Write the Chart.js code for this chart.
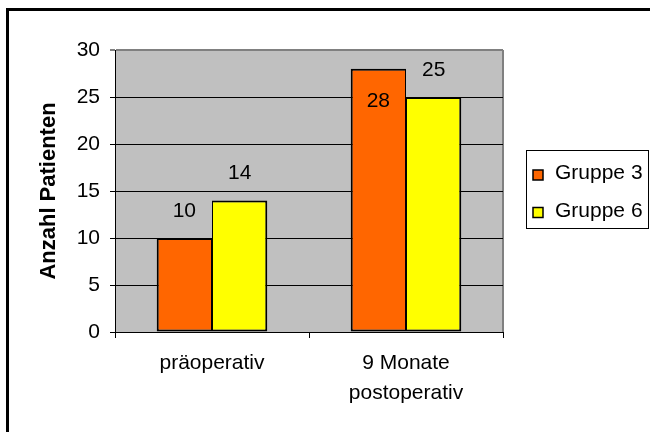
<!DOCTYPE html>
<html>
<head>
<meta charset="utf-8">
<script src="https://cdn.jsdelivr.net/npm/chart.js@4/dist/chart.umd.min.js"></script>
<style>
  html, body { margin: 0; padding: 0; background: #fff; }
  canvas { display: block; }
</style>
</head>
<body>
<canvas id="chart" width="650" height="432"></canvas>
<script>
// Categories, series and axis ticks
const categories = ['präoperativ', ['9 Monate', 'postoperativ']];
const seriesNames = ['Gruppe 3', 'Gruppe 6'];
const gruppe3 = [10, 28];
const gruppe6 = [14, 25];
const yTicks = [0, 5, 10, 15, 20, 25, 30];
const yTitle = 'Anzahl Patienten';

const FONT = '"Liberation Sans", Arial, Helvetica, sans-serif';
const FONT_SIZE = 21;
const PLOT_BG = '#C0C0C0';
const FRAME_GRAY = '#808080';

Chart.defaults.font.family = FONT;
Chart.defaults.font.size = FONT_SIZE;
Chart.defaults.color = '#000';

// White page with the heavy outer frame, grey plot area and its grey right edge
const framePlugin = {
  id: 'frame',
  beforeDraw(chart) {
    const { ctx, chartArea: a } = chart;
    ctx.save();
    ctx.fillStyle = '#fff';
    ctx.fillRect(0, 0, chart.width, chart.height);
    ctx.strokeStyle = '#000';
    ctx.lineWidth = 3;
    ctx.strokeRect(7.5, 9.5, chart.width + 50, chart.height + 50);
    ctx.fillStyle = PLOT_BG;
    ctx.fillRect(a.left, a.top, a.right - a.left, a.bottom - a.top);
    ctx.strokeStyle = FRAME_GRAY;
    ctx.lineWidth = 2;
    ctx.beginPath();
    ctx.moveTo(a.right, a.top);
    ctx.lineTo(a.right, a.bottom);
    ctx.stroke();
    ctx.restore();
  }
};

// Value labels: above each bar, or inside its top when there is no room above
const valueLabelPlugin = {
  id: 'valueLabels',
  afterDatasetsDraw(chart) {
    const { ctx, chartArea: a } = chart;
    ctx.save();
    ctx.font = `${FONT_SIZE}px ${FONT}`;
    ctx.fillStyle = '#000';
    ctx.textAlign = 'center';
    ctx.textBaseline = 'middle';
    chart.data.datasets.forEach((ds, i) => {
      chart.getDatasetMeta(i).data.forEach((bar, j) => {
        let y = bar.y - 27;
        if (y - FONT_SIZE / 2 < a.top) y = bar.y + 32;
        ctx.fillText(String(ds.data[j]), bar.x, y);
      });
    });
    ctx.restore();
  }
};

// Boxed legend to the right of the plot
const boxLegendPlugin = {
  id: 'boxLegend',
  afterDraw(chart) {
    const { ctx } = chart;
    const box = { x: 526.5, y: 150.5, w: 122, h: 78 };
    ctx.save();
    ctx.strokeStyle = '#000';
    ctx.lineWidth = 1;
    ctx.strokeRect(box.x, box.y, box.w, box.h);
    ctx.font = `${FONT_SIZE}px ${FONT}`;
    ctx.textAlign = 'left';
    ctx.textBaseline = 'middle';
    chart.data.datasets.forEach((ds, i) => {
      const cy = 173.5 + i * 37.5;
      ctx.fillStyle = ds.backgroundColor;
      ctx.fillRect(533, cy - 3.5, 10, 10);
      ctx.lineWidth = 1.5;
      ctx.strokeStyle = '#000';
      ctx.strokeRect(533, cy - 3.5, 10, 10);
      ctx.fillStyle = '#000';
      ctx.fillText(ds.label, 555, cy);
    });
    ctx.restore();
  }
};

new Chart(document.getElementById('chart'), {
  type: 'bar',
  data: {
    labels: categories,
    datasets: [
      {
        label: seriesNames[0],
        data: gruppe3,
        backgroundColor: '#FF6600',
        borderColor: '#000',
        // the shared edge with the neighbouring bar stays as thick as the outer edges
        borderWidth: { top: 2, left: 2, bottom: 2, right: 1 },
        borderSkipped: false,
        categoryPercentage: 0.57,
        barPercentage: 1
      },
      {
        label: seriesNames[1],
        data: gruppe6,
        backgroundColor: '#FFFF00',
        borderColor: '#000',
        borderWidth: { top: 2, left: 1, bottom: 2, right: 2 },
        borderSkipped: false,
        categoryPercentage: 0.57,
        barPercentage: 1
      }
    ]
  },
  options: {
    responsive: false,
    animation: false,
    devicePixelRatio: 1,
    layout: { padding: { left: 0, top: 50, right: 147, bottom: 0 } },
    plugins: {
      legend: { display: false },
      tooltip: { enabled: false },
      title: { display: false }
    },
    scales: {
      x: {
        offset: true,
        grid: {
          drawOnChartArea: false,
          offset: true,
          color: '#000',
          tickLength: 6
        },
        border: { color: '#000', width: 1 },
        ticks: {
          color: '#000',
          padding: 10,
          maxRotation: 0,
          autoSkip: false,
          font: { size: FONT_SIZE, lineHeight: 30 / FONT_SIZE }
        },
        afterFit(scale) { scale.height = 100; }
      },
      y: {
        min: 0,
        max: 30,
        afterBuildTicks(scale) { scale.ticks = yTicks.map(v => ({ value: v })); },
        grid: {
          color: c => (c.tick && c.tick.value === 30 ? FRAME_GRAY : '#000'),
          lineWidth: c => (c.tick && c.tick.value === 30 ? 2 : 1),
          tickLength: 5
        },
        border: { color: '#000', width: 1 },
        ticks: { color: '#000', padding: 10, font: { size: FONT_SIZE } },
        title: {
          display: true,
          text: yTitle,
          color: '#000',
          font: { size: 22, weight: 'bold' },
          padding: { top: 36, bottom: 0 }
        },
        afterFit(scale) { scale.width = 115; }
      }
    }
  },
  plugins: [framePlugin, valueLabelPlugin, boxLegendPlugin]
});
</script>
</body>
</html>
